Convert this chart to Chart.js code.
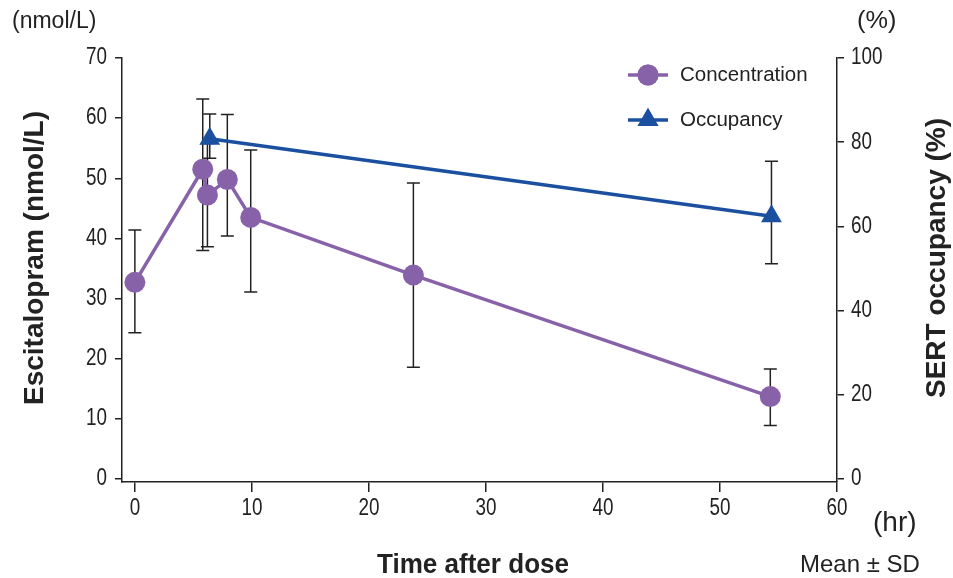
<!DOCTYPE html>
<html><head><meta charset="utf-8">
<script src="https://cdn.jsdelivr.net/npm/chart.js@4/dist/chart.umd.min.js"></script>
<style>html,body{margin:0;padding:0;background:#fff;overflow:hidden}#wrap{width:953px;height:578px;position:relative}</style>
</head><body><div id="wrap"><canvas id="c" width="953" height="578"></canvas></div>
<script>
// ---- data ----
const concTimes = [0, 5.8, 6.2, 7.9, 9.9, 23.8, 54.3];
const concMean  = [32.7, 51.5, 47.2, 49.8, 43.5, 33.9, 13.7];
const concUpper = [41.4, 63.2, 55.8, 60.6, 54.7, 49.2, 18.3];
const concLower = [24.3, 38.0, 38.6, 40.4, 31.1, 18.6, 8.9];
const occTimes  = [6.4, 54.4];
const occMean   = [80.8, 62.4];
const occUpper  = [86.7, 75.5];
const occLower  = [76.2, 51.1];
const xTicks     = [0, 10, 20, 30, 40, 50, 60];
const leftTicks  = [0, 10, 20, 30, 40, 50, 60, 70];
const rightTicks = [0, 20, 40, 60, 80, 100];
const seriesNames = ['Concentration', 'Occupancy'];

const PURPLE = '#8862a9';
const BLUE = '#1b4f9f';
const INK = '#222222';
const REG = "'Liberation Sans', Arial, sans-serif";

function condensed(ctx, text, x, y, align, sx) {
  ctx.save();
  ctx.translate(x, y);
  ctx.scale(sx, 1);
  ctx.textAlign = align;
  ctx.fillText(text, 0, 0);
  ctx.restore();
}

const errorBars = {
  id: 'errorBars',
  beforeDatasetsDraw(chart) {
    const ctx = chart.ctx;
    const sx = chart.scales.x;
    const sets = [
      {t: concTimes, up: concUpper, lo: concLower, axis: 'yL'},
      {t: occTimes, up: occUpper, lo: occLower, axis: 'yR'}
    ];
    ctx.save();
    ctx.strokeStyle = INK;
    ctx.lineWidth = 1.5;
    sets.forEach(s => {
      const sy = chart.scales[s.axis];
      s.t.forEach((t, i) => {
        const x = sx.getPixelForValue(t);
        const y1 = sy.getPixelForValue(s.up[i]);
        const y2 = sy.getPixelForValue(s.lo[i]);
        ctx.beginPath();
        ctx.moveTo(x, y1); ctx.lineTo(x, y2);
        ctx.moveTo(x - 6.5, y1); ctx.lineTo(x + 6.5, y1);
        ctx.moveTo(x - 6.5, y2); ctx.lineTo(x + 6.5, y2);
        ctx.stroke();
      });
    });
    ctx.restore();
  }
};

const extras = {
  id: 'extras',
  afterDraw(chart) {
    const ctx = chart.ctx;
    const a = chart.chartArea;
    ctx.save();
    ctx.fillStyle = INK;
    ctx.textBaseline = 'middle';
    // tick labels (condensed face)
    ctx.font = '23px ' + REG;
    const sx = chart.scales.x, yl = chart.scales.yL, yr = chart.scales.yR;
    sx.ticks.forEach(t => condensed(ctx, String(t.value), sx.getPixelForValue(t.value), a.bottom + 27, 'center', 0.82));
    yl.ticks.forEach(t => condensed(ctx, String(t.value), a.left - 15, yl.getPixelForValue(t.value), 'right', 0.82));
    yr.ticks.forEach(t => condensed(ctx, String(t.value), a.right + 14, yr.getPixelForValue(t.value), 'left', 0.82));
    // unit labels
    ctx.font = '23px ' + REG;
    ctx.textAlign = 'left';
    ctx.fillText('(nmol/L)', 12, 22);
    condensed(ctx, '(%)', 857, 22, 'left', 1.1);
    ctx.font = '28px ' + REG;
    ctx.fillText('(hr)', 873, 523);
    ctx.font = '24px ' + REG;
    ctx.fillText('Mean \u00b1 SD', 800, 565);
    // axis titles
    ctx.font = 'bold 28px ' + REG;
    condensed(ctx, 'Time after dose', 473, 565, 'center', 0.93);
    ctx.textAlign = 'center';
    ctx.save();
    ctx.translate(35, 258);
    ctx.rotate(-Math.PI / 2);
    ctx.fillText('Escitalopram (nmol/L)', 0, 0);
    ctx.restore();
    ctx.save();
    ctx.translate(937, 258);
    ctx.rotate(-Math.PI / 2);
    ctx.fillText('SERT occupancy (%)', 0, 0);
    ctx.restore();
    // legend
    const items = [
      {name: seriesNames[0], color: PURPLE, y: 75, style: 'circle', r: 10.5},
      {name: seriesNames[1], color: BLUE, y: 120, style: 'triangle', r: 12}
    ];
    ctx.font = '20.5px ' + REG;
    ctx.textAlign = 'left';
    items.forEach(it => {
      ctx.strokeStyle = it.color;
      ctx.lineWidth = 3.5;
      ctx.beginPath();
      ctx.moveTo(628, it.y); ctx.lineTo(668, it.y);
      ctx.stroke();
      ctx.fillStyle = it.color;
      Chart.helpers.drawPoint(ctx, {pointStyle: it.style, radius: it.r, borderWidth: 0}, 648, it.y);
      ctx.fill();
      ctx.fillStyle = INK;
      ctx.fillText(it.name, 680, it.y);
    });
    ctx.restore();
  }
};

const axisCommon = {
  border: {display: true, color: INK, width: 1.5},
  ticks: {display: false}
};

new Chart(document.getElementById('c'), {
  type: 'line',
  data: {
    datasets: [
      {
        label: seriesNames[0],
        data: concTimes.map((t, i) => ({x: t, y: concMean[i]})),
        yAxisID: 'yL',
        borderColor: PURPLE, backgroundColor: PURPLE,
        borderWidth: 3.5, pointRadius: 10.5, pointHoverRadius: 10.5,
        pointStyle: 'circle', pointBorderWidth: 0, tension: 0
      },
      {
        label: seriesNames[1],
        data: occTimes.map((t, i) => ({x: t, y: occMean[i]})),
        yAxisID: 'yR',
        borderColor: BLUE, backgroundColor: BLUE,
        borderWidth: 3.5, pointRadius: 12, pointHoverRadius: 12,
        pointStyle: 'triangle', pointBorderWidth: 0, tension: 0
      }
    ]
  },
  options: {
    responsive: false,
    animation: false,
    devicePixelRatio: 1,
    layout: {padding: {left: 0, right: 0, top: 58, bottom: 0}},
    plugins: {legend: {display: false}, tooltip: {enabled: false}},
    scales: {
      x: Object.assign({}, axisCommon, {
        type: 'linear', min: -1.1, max: 60,
        afterBuildTicks: s => { s.ticks = xTicks.map(v => ({value: v})); },
        afterFit: s => { s.height = 96; },
        grid: {drawOnChartArea: false, drawTicks: true, tickLength: 10, color: INK, lineWidth: 1.5}
      }),
      yL: Object.assign({}, axisCommon, {
        type: 'linear', position: 'left', min: -0.5, max: 70,
        afterBuildTicks: s => { s.ticks = leftTicks.map(v => ({value: v})); },
        afterFit: s => { s.width = 122; },
        grid: {drawOnChartArea: false, drawTicks: true, tickLength: 7, color: INK, lineWidth: 1.5}
      }),
      yR: Object.assign({}, axisCommon, {
        type: 'linear', position: 'right', min: -0.714, max: 100,
        afterBuildTicks: s => { s.ticks = rightTicks.map(v => ({value: v})); },
        afterFit: s => { s.width = 116; },
        grid: {drawOnChartArea: false, drawTicks: true, tickLength: 7, color: INK, lineWidth: 1.5}
      })
    }
  },
  plugins: [errorBars, extras]
});
</script>
</body></html>
